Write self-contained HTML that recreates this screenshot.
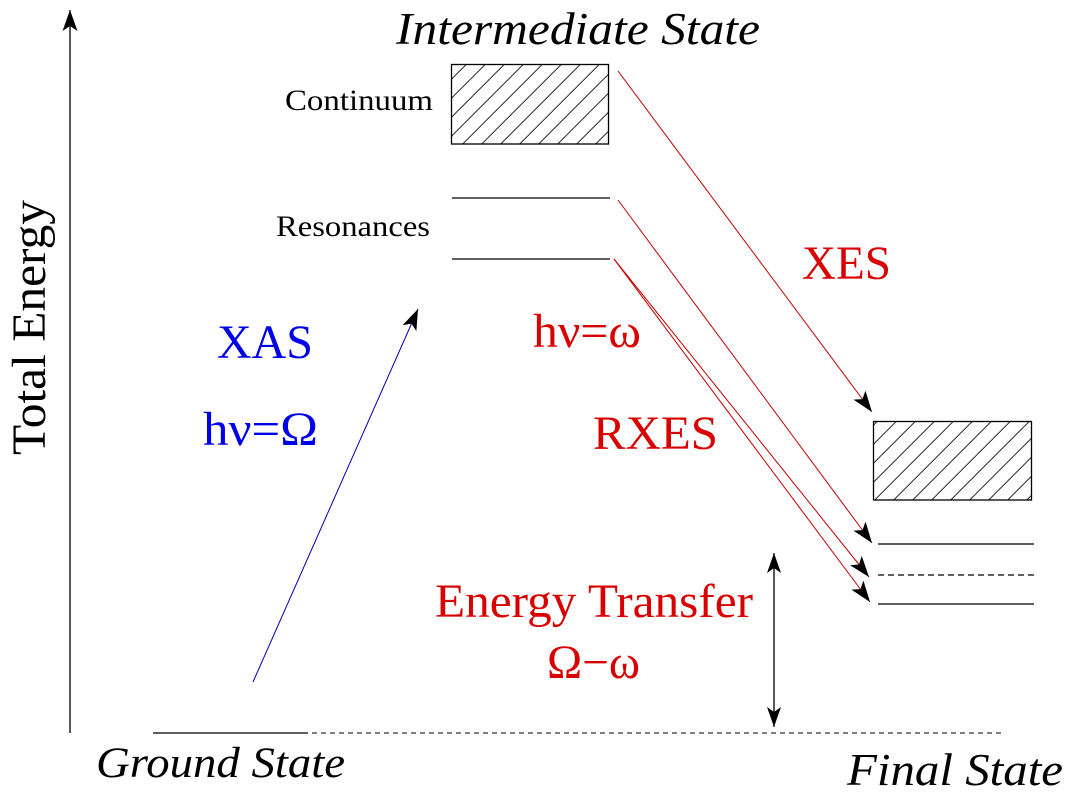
<!DOCTYPE html>
<html>
<head>
<meta charset="utf-8">
<style>
  html, body { margin: 0; padding: 0; background: #ffffff; }
  body { width: 1067px; height: 810px; overflow: hidden; font-family: "Liberation Serif", "Times New Roman", Times, serif; }
  svg { display: block; }
  svg text { font-family: "Liberation Serif", "Times New Roman", Times, serif; }
</style>
</head>
<body>
<svg width="1067" height="810" viewBox="0 0 1067 810" xmlns="http://www.w3.org/2000/svg" font-family="'Liberation Serif', 'Times New Roman', Times, serif">
  <defs>
    <pattern id="hatchA" patternUnits="userSpaceOnUse" x="17.7" y="0" width="19" height="19">
      <line x1="0" y1="19" x2="19" y2="0" stroke="#000" stroke-width="0.8"/>
      <line x1="-1" y1="1" x2="1" y2="-1" stroke="#000" stroke-width="0.8"/>
      <line x1="18" y1="20" x2="20" y2="18" stroke="#000" stroke-width="0.8"/>
    </pattern>
    <pattern id="hatchB" patternUnits="userSpaceOnUse" x="6.7" y="0" width="19" height="19">
      <line x1="0" y1="19" x2="19" y2="0" stroke="#000" stroke-width="0.8"/>
      <line x1="-1" y1="1" x2="1" y2="-1" stroke="#000" stroke-width="0.8"/>
      <line x1="18" y1="20" x2="20" y2="18" stroke="#000" stroke-width="0.8"/>
    </pattern>
    <marker id="ah" markerUnits="userSpaceOnUse" markerWidth="30" markerHeight="20" refX="24" refY="8" orient="auto" overflow="visible">
      <path d="M24,8 L3,0.5 L8,8 L3,15.5 Z" fill="#000"/>
    </marker>
    <marker id="ahs" markerUnits="userSpaceOnUse" markerWidth="30" markerHeight="20" refX="24" refY="8" orient="auto-start-reverse" overflow="visible">
      <path d="M24,8 L4,1 L9,8 L4,15 Z" fill="#000"/>
    </marker>
  </defs>

  <!-- Total energy axis -->
  <line x1="70" y1="733" x2="70" y2="10" stroke="#000" stroke-width="1.3" marker-end="url(#ah)"/>
  <text font-family="'Liberation Serif', 'Times New Roman', serif" transform="translate(45,455) rotate(-90)" font-size="48" textLength="255" lengthAdjust="spacingAndGlyphs">Total Energy</text>

  <!-- Intermediate state -->
  <text font-family="'Liberation Serif', 'Times New Roman', serif" x="396" y="44" font-size="45" font-style="italic" textLength="364" lengthAdjust="spacingAndGlyphs">Intermediate State</text>
  <rect x="451.5" y="64.5" width="157" height="79.5" fill="url(#hatchA)" stroke="#000" stroke-width="1.3"/>
  <text font-family="'Liberation Serif', 'Times New Roman', serif" x="285" y="110" font-size="30" textLength="148" lengthAdjust="spacingAndGlyphs">Continuum</text>
  <line x1="452" y1="198" x2="610" y2="198" stroke="#000" stroke-width="1.3"/>
  <line x1="452" y1="259" x2="610" y2="259" stroke="#000" stroke-width="1.3"/>
  <text font-family="'Liberation Serif', 'Times New Roman', serif" x="276" y="236" font-size="30" textLength="154" lengthAdjust="spacingAndGlyphs">Resonances</text>

  <!-- Final state -->
  <rect x="873.5" y="421.5" width="158" height="78.5" fill="url(#hatchB)" stroke="#000" stroke-width="1.3"/>
  <line x1="878" y1="544" x2="1034" y2="544" stroke="#000" stroke-width="1.3"/>
  <line x1="878" y1="575" x2="1034" y2="575" stroke="#000" stroke-width="1.3" stroke-dasharray="6,4"/>
  <line x1="878" y1="604" x2="1034" y2="604" stroke="#000" stroke-width="1.3"/>
  <text font-family="'Liberation Serif', 'Times New Roman', serif" x="847" y="785" font-size="46" font-style="italic" textLength="216" lengthAdjust="spacingAndGlyphs">Final State</text>

  <!-- Ground state -->
  <line x1="153" y1="733" x2="308" y2="733" stroke="#000" stroke-width="1.3"/>
  <line x1="312" y1="733" x2="1003" y2="733" stroke="#000" stroke-width="1.1" stroke-dasharray="5,4"/>
  <text font-family="'Liberation Serif', 'Times New Roman', serif" x="96" y="777" font-size="43" font-style="italic" textLength="249" lengthAdjust="spacingAndGlyphs">Ground State</text>

  <!-- XAS -->
  <line x1="253" y1="682" x2="418" y2="309" stroke="#0000b0" stroke-width="1" marker-end="url(#ah)"/>
  <text font-family="'Liberation Serif', 'Times New Roman', serif" x="217" y="358" font-size="48" fill="#0000e6" textLength="96" lengthAdjust="spacingAndGlyphs">XAS</text>
  <text font-family="'Liberation Serif', 'Times New Roman', serif" x="203" y="445" font-size="48" fill="#0000e6" textLength="115" lengthAdjust="spacingAndGlyphs">hν=Ω</text>

  <!-- Emission arrows -->
  <line x1="618" y1="71" x2="872" y2="412" stroke="#c00000" stroke-width="1" marker-end="url(#ah)"/>
  <line x1="618" y1="200" x2="872" y2="543" stroke="#c00000" stroke-width="1" marker-end="url(#ah)"/>
  <line x1="614" y1="259" x2="869" y2="577" stroke="#c00000" stroke-width="1" marker-end="url(#ah)"/>
  <line x1="614" y1="259" x2="870" y2="602" stroke="#c00000" stroke-width="1" marker-end="url(#ah)"/>

  <text font-family="'Liberation Serif', 'Times New Roman', serif" x="802" y="279" font-size="48" fill="#d80000" textLength="89" lengthAdjust="spacingAndGlyphs">XES</text>
  <text font-family="'Liberation Serif', 'Times New Roman', serif" x="533" y="347" font-size="48" fill="#d80000" textLength="108" lengthAdjust="spacingAndGlyphs">hν=ω</text>
  <text font-family="'Liberation Serif', 'Times New Roman', serif" x="593" y="449" font-size="48" fill="#d80000" textLength="125" lengthAdjust="spacingAndGlyphs">RXES</text>
  <text font-family="'Liberation Serif', 'Times New Roman', serif" x="435" y="617" font-size="48" fill="#d80000" textLength="318" lengthAdjust="spacingAndGlyphs">Energy Transfer</text>
  <text font-family="'Liberation Serif', 'Times New Roman', serif" x="547" y="678" font-size="48" fill="#d80000" textLength="93" lengthAdjust="spacingAndGlyphs">Ω−ω</text>

  <!-- Energy transfer double arrow -->
  <line x1="774" y1="553" x2="774" y2="727" stroke="#000" stroke-width="1.3" marker-start="url(#ahs)" marker-end="url(#ahs)"/>
</svg>
</body>
</html>
